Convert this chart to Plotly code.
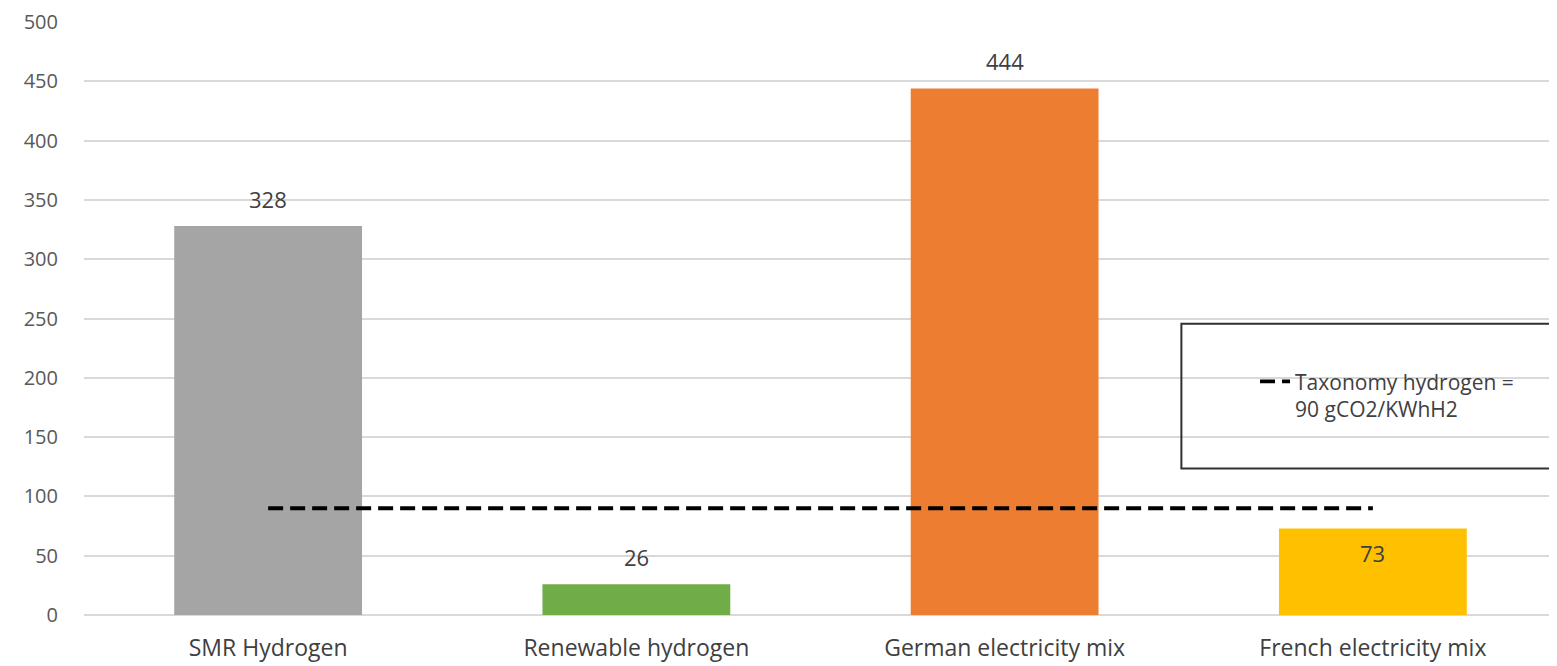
import plotly.graph_objects as go

categories = ["SMR Hydrogen", "Renewable hydrogen", "German electricity mix", "French electricity mix"]
values = [328, 26, 444, 73]
bar_colors = ["#A5A5A5", "#70AD47", "#ED7D31", "#FFC000"]
label_inside = [False, False, False, True]
threshold_name = "Taxonomy hydrogen =<br>90 gCO2/KWhH2"
threshold_values = [90, 90, 90, 90]
y_ticks = [0, 50, 100, 150, 200, 250, 300, 350, 400, 450, 500]

font_family = "Open Sans"

fig = go.Figure()
fig.add_trace(go.Bar(
    x=categories, y=values,
    marker=dict(color=bar_colors, line=dict(width=0)),
    showlegend=False,
    hoverinfo="x+y",
))
fig.add_trace(go.Scatter(
    x=categories, y=threshold_values,
    mode="lines",
    line=dict(color="black", width=3.8, dash="15px,7px"),
    name=threshold_name,
    showlegend=True,
))

annotations = []
for cat, val, inside in zip(categories, values, label_inside):
    annotations.append(dict(
        x=cat, y=val, xref="x", yref="y",
        text=str(val), showarrow=False,
        yanchor="top" if inside else "bottom",
        yshift=-8 if inside else 10,
        font=dict(family=font_family, size=22, color="#404040"),
    ))

fig.update_layout(
    width=1549, height=658,
    margin=dict(l=76, r=0, t=12, b=51),
    paper_bgcolor="white", plot_bgcolor="white",
    bargap=0.49,
    font=dict(family=font_family, color="#595959"),
    legend=dict(
        x=0.795, y=0.428, xanchor="left", yanchor="top",
        bgcolor="rgba(0,0,0,0)", borderwidth=0,
        font=dict(family=font_family, size=21, color="#404040"),
        valign="top",
    ),
    annotations=annotations,
    shapes=[dict(
        type="rect", xref="paper", yref="paper",
        x0=0.745, x1=1.01, y0=0.247, y1=0.491,
        line=dict(color="#303030", width=2), fillcolor="rgba(0,0,0,0)",
        layer="above",
    )],
)
fig.update_xaxes(
    showgrid=False, showline=False, zeroline=False,
    tickfont=dict(family=font_family, size=23, color="#404040"),
    ticklabelstandoff=17,
)
fig.update_yaxes(
    range=[0, 500], tickvals=y_ticks,
    showgrid=True, gridcolor="#D9D9D9", gridwidth=1.5,
    zeroline=True, zerolinecolor="#D9D9D9", zerolinewidth=1.5,
    showline=False,
    ticklabeloverflow="allow",
    tickfont=dict(family=font_family, size=20, color="#595959"),
    ticklabelstandoff=25,
)

fig.write_html("out.html")
